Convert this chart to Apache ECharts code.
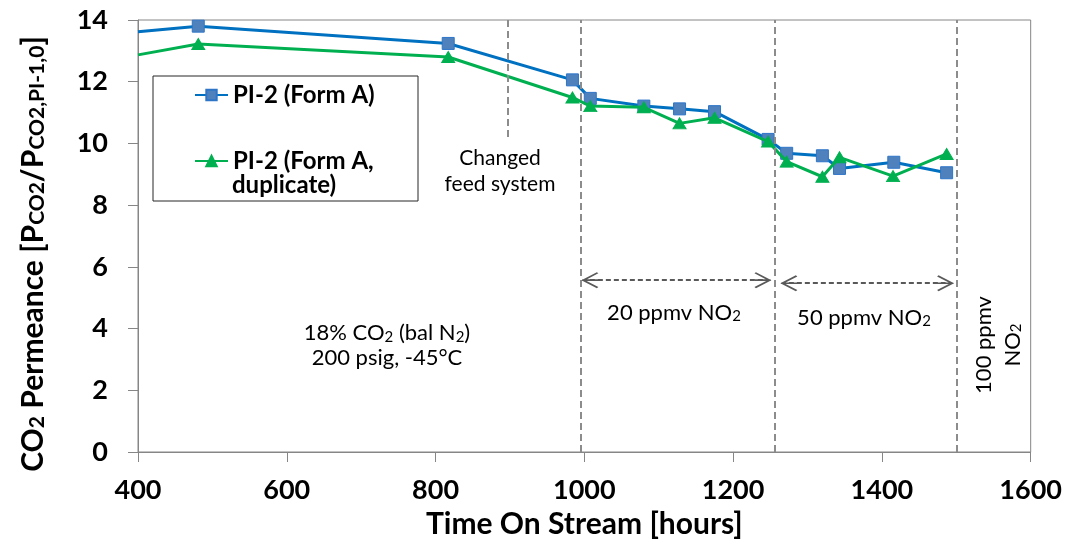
<!DOCTYPE html>
<html>
<head>
<meta charset="utf-8">
<script src="https://cdn.jsdelivr.net/npm/echarts@6/dist/echarts.min.js"></script>
<style>
html,body{margin:0;padding:0;background:#fff;}
#c{width:1065px;height:555px;}
</style>
</head>
<body>
<div id="c"></div>
<script>
// ---- data ----
const blueHours = [400, 481, 817, 984, 1008, 1080, 1128, 1175, 1247, 1272, 1320, 1343, 1416, 1487];
const blueVals  = [13.62, 13.80, 13.24, 12.06, 11.46, 11.21, 11.12, 11.03, 10.13, 9.68, 9.60, 9.19, 9.39, 9.05];
const greenHours = [400, 481, 817, 984, 1008, 1080, 1128, 1175, 1247, 1272, 1320, 1343, 1415, 1487];
const greenVals  = [12.87, 13.22, 12.80, 11.49, 11.21, 11.17, 10.65, 10.83, 10.06, 9.41, 8.92, 9.55, 8.94, 9.66];
const seriesNames = ['PI-2 (Form A)', 'PI-2 (Form A, duplicate)'];
const xTicks = {min: 400, max: 1600, interval: 200};
const yTicks = {min: 0, max: 14, interval: 2};
const phaseLines = [995, 1256, 1500];          // hours of full-height dashed lines
const feedLine = {x: 897, yTop: 14, yBottom: 10.1};
const arrows = [[996, 1251.5, 5.57], [1263.5, 1497, 5.47]]; // [fromHour, toHour, level]

const FONT = 'Lato';
const grid = {left: 138, right: 33, top: 20, bottom: 103};
const pxPerHour = (1065 - grid.left - grid.right) / (xTicks.max - xTicks.min);
const halfHeadHours = 8.5 / pxPerHour;

function mkData(xs, ys) {
  return xs.map((x, i) => i === 0 ? {value: [x, ys[i]], symbol: 'none'} : [x, ys[i]]);
}

const chevron = 'path://M80,0 L160,155 L148,170 L80,38 L12,170 L0,155 Z M72,8 L88,8 L88,170 L72,170 Z';

const chart = echarts.init(document.getElementById('c'), null, {renderer: 'canvas'});
const sub = {fontSize: 15, fontFamily: FONT, verticalAlign: 'bottom', color: '#000'};

chart.setOption({
  animation: false,
  backgroundColor: '#fff',
  grid: {left: grid.left, right: grid.right, top: grid.top, bottom: grid.bottom, show: true, borderColor: '#868686', borderWidth: 1},
  xAxis: {
    type: 'value', min: xTicks.min, max: xTicks.max, interval: xTicks.interval,
    name: 'Time On Stream [hours]', nameLocation: 'middle', nameGap: 56,
    nameTextStyle: {fontFamily: FONT, fontWeight: 'bold', fontSize: 30, color: '#000'},
    axisLine: {lineStyle: {color: '#868686', width: 1}},
    axisTick: {show: true, length: 10, lineStyle: {color: '#868686'}},
    axisLabel: {fontFamily: FONT, fontWeight: 'bold', fontSize: 27, color: '#000', margin: 25, formatter: v => String(v)},
    splitLine: {show: false}
  },
  yAxis: {
    type: 'value', min: yTicks.min, max: yTicks.max, interval: yTicks.interval,
    name: 'CO{s|2} Permeance [P{s|CO2}/P{s|CO2,PI-1,0}]',
    nameLocation: 'middle', nameRotate: 90, nameGap: 90,
    nameTextStyle: {fontFamily: FONT, fontWeight: 'bold', fontSize: 30, color: '#000', padding: [0, 36, 0, 0],
      rich: {s: {fontSize: 21, fontFamily: FONT, fontWeight: 'bold', verticalAlign: 'bottom', color: '#000'}}},
    axisLine: {show: true, lineStyle: {color: '#868686', width: 1}},
    axisTick: {show: true, length: 10, lineStyle: {color: '#868686'}},
    axisLabel: {fontFamily: FONT, fontWeight: 'bold', fontSize: 27, color: '#000', margin: 30},
    splitLine: {show: false}
  },
  legend: {
    data: seriesNames, orient: 'vertical', left: 189, top: 78,
    itemWidth: 33, itemHeight: 13, itemGap: 42,
    textStyle: {fontFamily: FONT, fontWeight: 'bold', fontSize: 24, color: '#000'},
    formatter: n => n === seriesNames[1] ? 'PI-2 (Form A,' : n
  },
  series: [
    {
      name: seriesNames[0], type: 'line', data: mkData(blueHours, blueVals),
      symbol: 'rect', symbolSize: 12, z: 3,
      lineStyle: {color: '#0070C0', width: 3},
      itemStyle: {color: '#4F81BD', borderColor: '#2E75C8', borderWidth: 1}
    },
    {
      name: seriesNames[1], type: 'line', data: mkData(greenHours, greenVals),
      symbol: 'triangle', symbolSize: [13, 11], z: 4,
      lineStyle: {color: '#00B050', width: 3},
      itemStyle: {color: '#00B050', borderColor: '#00B050', borderWidth: 1}
    },
    {
      name: 'phases', type: 'line', data: [], silent: true,
      markLine: {
        silent: true, symbol: 'none', label: {show: false},
        lineStyle: {color: '#8C8C8C', width: 2, type: [7, 4]},
        data: phaseLines.map(x => ({xAxis: x})).concat([[{coord: [feedLine.x, feedLine.yTop]}, {coord: [feedLine.x, feedLine.yBottom]}]])
      }
    },
    {
      name: 'arrows', type: 'line', data: [], silent: true,
      markLine: {
        silent: true, symbol: [chevron, chevron], symbolSize: [16, 17], label: {show: false},
        lineStyle: {color: '#595959', width: 2, type: [5, 3], opacity: 1},
        data: arrows.map(a => [{coord: [a[0] + halfHeadHours, a[2]]}, {coord: [a[1] - halfHeadHours, a[2]]}])
      }
    }
  ],
  graphic: [
    {type: 'rect', shape: {x: 153, y: 76, width: 265, height: 125}, style: {fill: 'none', stroke: '#262626', lineWidth: 1}, z: 1},
    {type: 'text', x: 232, y: 185, style: {text: 'duplicate)', font: 'bold 24px Lato', fill: '#000', verticalAlign: 'middle', align: 'left'}},
    {type: 'text', x: 500, y: 171, style: {text: 'Changed\nfeed system', fontSize: 21, fontFamily: FONT, fill: '#000', align: 'center', verticalAlign: 'middle', lineHeight: 26}},
    {type: 'text', x: 674, y: 313, style: {text: '20 ppmv NO{s|2}', fontSize: 22, fontFamily: FONT, fill: '#000', align: 'center', verticalAlign: 'middle', rich: {s: sub}}},
    {type: 'text', x: 864, y: 318, style: {text: '50 ppmv NO{s|2}', fontSize: 22, fontFamily: FONT, fill: '#000', align: 'center', verticalAlign: 'middle', rich: {s: sub}}},
    {type: 'text', x: 387, y: 345, style: {text: '18% CO{s|2} (bal N{s|2})\n200 psig, -45°C', fontSize: 22, fontFamily: FONT, fill: '#000', align: 'center', verticalAlign: 'middle', lineHeight: 25, rich: {s: Object.assign({}, sub, {lineHeight: 25})}}},
    {type: 'text', x: 984, y: 345, rotation: Math.PI / 2, style: {text: '100 ppmv', fontSize: 22, fontFamily: FONT, fill: '#000', align: 'center', verticalAlign: 'middle'}},
    {type: 'text', x: 1013, y: 345, rotation: Math.PI / 2, style: {text: 'NO{s|2}', fontSize: 22, fontFamily: FONT, fill: '#000', align: 'center', verticalAlign: 'middle', rich: {s: sub}}}
  ]
});
</script>
</body>
</html>
